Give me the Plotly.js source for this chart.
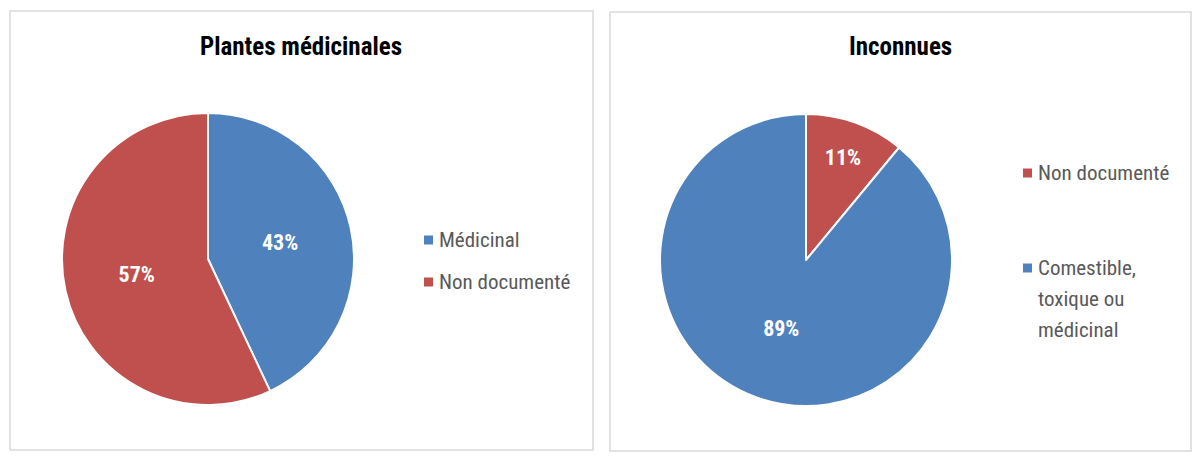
<!DOCTYPE html>
<html><head><meta charset="utf-8">
<script src="https://cdn.plot.ly/plotly-3.0.1.min.js"></script>
<style>html,body{margin:0;padding:0;background:#fff}#chart{width:1200px;height:461px}</style>
</head><body><div id="chart"></div>
<script>
const title1 = "Plantes médicinales";
const labels1 = ["Médicinal", "Non documenté"];
const values1 = [43, 57];
const colors1 = ["#4F81BD", "#C0504D"];

const title2 = "Inconnues";
const labels2 = ["Non documenté", "Comestible,<br>toxique ou<br>médicinal"];
const values2 = [11, 89];
const colors2 = ["#C0504D", "#4F81BD"];

const FONT = "'Liberation Sans Narrow', 'Roboto Condensed', 'Arial Narrow', Roboto, sans-serif";
const W = 1200, H = 461;
const px = x => x / W, py = y => 1 - y / H;

function pieTrace(labels, values, colors, cx, cy, r) {
  return {
    type: 'pie', labels: labels, values: values, sort: false, direction: 'clockwise', rotation: 0,
    marker: {colors: colors, line: {color: '#ffffff', width: 2}},
    texttemplate: '%{percent:.0%}', textposition: 'inside', insidetextorientation: 'horizontal',
    textfont: {family: FONT, size: 22, color: '#ffffff', weight: 'bold'},
    domain: {x: [px(cx - r), px(cx + r)], y: [py(cy + r), py(cy - r)]},
    showlegend: false, hoverinfo: 'label+percent'
  };
}

const shapes = [], annotations = [];
function panel(x0, x1, y0, y1, title, labels, colors, legX, legYs, lineGap) {
  shapes.push({type: 'rect', xref: 'paper', yref: 'paper', x0: px(x0), x1: px(x1), y0: py(y1), y1: py(y0),
    line: {color: '#d9d9d9', width: 1.5}, fillcolor: 'rgba(0,0,0,0)', layer: 'below'});
  annotations.push({xref: 'paper', yref: 'paper', x: px((x0 + x1) / 2), y: py(47), text: title, showarrow: false,
    xanchor: 'center', yanchor: 'middle', font: {family: FONT, size: 25, color: '#000000', weight: 'bold'}});
  labels.forEach((lab, i) => {
    const yy = legYs[i];
    shapes.push({type: 'rect', xref: 'paper', yref: 'paper', x0: px(legX), x1: px(legX + 9),
      y0: py(yy + 4.5), y1: py(yy - 4.5), fillcolor: colors[i], line: {width: 0}});
    lab.split('<br>').forEach((line, j) => {
      annotations.push({xref: 'paper', yref: 'paper', x: px(legX + 13), y: py(yy + j * lineGap), text: line,
        showarrow: false, xanchor: 'left', yanchor: 'middle', align: 'left',
        font: {family: FONT, size: 21, color: '#595959'}});
    });
  });
}

panel(10, 593, 11, 450, title1, labels1, colors1, 424, [240, 282], 31);
panel(610, 1191, 12, 451, title2, labels2, colors2, 1023, [173, 268], 31);

const data = [
  pieTrace(labels1, values1, colors1, 208, 259, 146),
  pieTrace(labels2, values2, colors2, 806, 260, 146)
];

Plotly.newPlot('chart', data, {
  width: W, height: H, margin: {l: 0, r: 0, t: 0, b: 0},
  paper_bgcolor: '#ffffff', plot_bgcolor: '#ffffff',
  shapes: shapes, annotations: annotations, showlegend: false,
  font: {family: FONT}
}, {displayModeBar: false, staticPlot: true});
</script></body></html>
